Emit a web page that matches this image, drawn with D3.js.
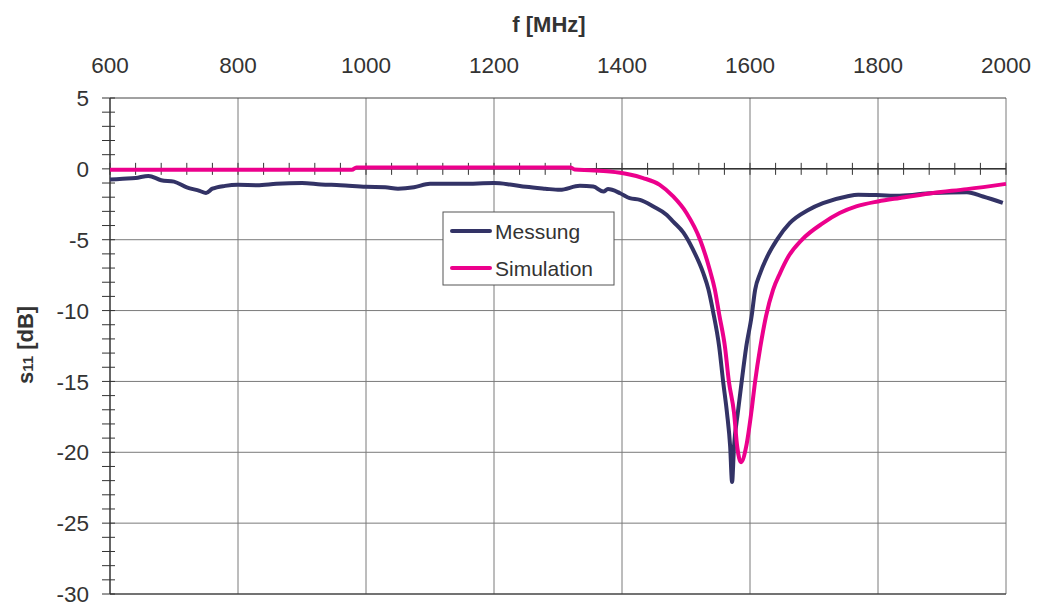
<!DOCTYPE html>
<html>
<head>
<meta charset="utf-8">
<script src="https://cdn.jsdelivr.net/npm/d3@7"></script>
<style>
  body { margin: 0; background: #fff; }
  text { font-family: "Liberation Sans", Arial, sans-serif; fill: #333; }
</style>
</head>
<body>
<div id="chart"></div>
<script>
const width = 1039;
const height = 604;
const margin = { top: 98, right: 33, bottom: 10, left: 110 };

// frequency ticks and dB ticks
const xTicks = [600, 800, 1000, 1200, 1400, 1600, 1800, 2000];
const yTicks = [5, 0, -5, -10, -15, -20, -25, -30];

// Messung (measured) [MHz, dB]
const messung = [
  [600, -0.75], [620, -0.7], [640, -0.65], [660, -0.5], [680, -0.8], [700, -0.9],
  [720, -1.3], [740, -1.55], [750, -1.7], [760, -1.4], [780, -1.2], [800, -1.13],
  [830, -1.15], [860, -1.05], [900, -1.0], [930, -1.1], [960, -1.15], [1000, -1.27],
  [1030, -1.3], [1050, -1.4], [1075, -1.3], [1100, -1.05], [1150, -1.05], [1200, -1.0],
  [1225, -1.1], [1250, -1.27], [1280, -1.4], [1303, -1.48], [1334, -1.2], [1355, -1.25],
  [1371, -1.6], [1378, -1.43], [1397, -1.72], [1412, -2.07], [1428, -2.19], [1449, -2.66],
  [1470, -3.25], [1480, -3.72], [1496, -4.5], [1511, -5.7], [1527, -7.36], [1535, -8.5],
  [1542, -10.0], [1552, -12.6], [1558, -15], [1564, -17.2], [1569, -19.6], [1572, -22.1],
  [1575, -19.6], [1581, -17.2], [1587, -15], [1594, -12.6], [1602.5, -10.4], [1608, -8.54],
  [1616, -7.36], [1627, -6.19], [1643, -4.94], [1662, -3.83], [1691, -2.9], [1714, -2.42],
  [1751, -1.95], [1769, -1.83], [1798, -1.85], [1834, -1.9], [1886, -1.7], [1939, -1.65],
  [1964, -1.95], [1995, -2.4]
];

// Simulation [MHz, dB]
const simulation = [
  [600, -0.07], [978, -0.07], [985, 0.1], [1320, 0.1], [1326, -0.05], [1350, -0.1],
  [1381, -0.19], [1410, -0.38], [1433, -0.65], [1459, -1.13], [1480, -1.95], [1501, -3.13],
  [1522, -5.0], [1537, -7.1], [1545, -8.5], [1552, -10.3], [1561, -12.6], [1567, -15],
  [1575, -17.2], [1580, -19.6], [1586, -20.7], [1594, -19.6], [1602, -17.2], [1608, -15],
  [1616, -12.6], [1625, -10.4], [1636, -8.54], [1647, -7.36], [1660, -6.19], [1681, -5.01],
  [1714, -3.83], [1740, -3.12], [1766, -2.65], [1800, -2.3], [1834, -2.05], [1886, -1.7],
  [1939, -1.43], [2000, -1.06]
];

const seriesNames = ["Messung", "Simulation"];
const seriesColors = ["#333366", "#ec008c"];

const svg = d3.select("#chart")
            .append("svg")
            .attr("width", width)
            .attr("height", height)

const x = d3.scaleLinear()
            .domain([600, 2000])
            .range([margin.left, width - margin.right]);

const y = d3.scaleLinear()
            .domain([-30, 5])
            .range([height - margin.bottom, margin.top]);

// grid
svg.append("g")
    .selectAll("line")
    .data(xTicks.slice(1))
    .join("line")
        .attr("x1", d => x(d)).attr("x2", d => x(d))
        .attr("y1", y(5)).attr("y2", y(-30))
        .style("stroke", "#7a7a7a")
        .style("stroke-width", 1)

svg.append("g")
    .selectAll("line")
    .data(yTicks)
    .join("line")
        .attr("x1", x(600)).attr("x2", x(2000))
        .attr("y1", d => y(d)).attr("y2", d => y(d))
        .style("stroke", d => d === -30 || d === 5 ? "#444" : "#7a7a7a")
        .style("stroke-width", d => d === -30 ? 1.5 : 1)

// y axis (minor ticks every 1 dB)
svg.append("line")
    .attr("x1", x(600)).attr("x2", x(600))
    .attr("y1", y(5)).attr("y2", y(-30))
    .style("stroke", "#333").style("stroke-width", 1.5)

svg.append("g")
    .selectAll("line")
    .data(d3.range(-30, 6, 1))
    .join("line")
        .attr("x1", x(600) - 8).attr("x2", x(600) + 5)
        .attr("y1", d => y(d)).attr("y2", d => y(d))
        .style("stroke", "#333").style("stroke-width", 1)

// x axis sits on 0 dB (minor ticks every 40 MHz)
svg.append("line")
    .attr("x1", x(600)).attr("x2", x(2000))
    .attr("y1", y(0)).attr("y2", y(0))
    .style("stroke", "#333").style("stroke-width", 1.5)

svg.append("g")
    .selectAll("line")
    .data(d3.range(600, 2001, 40))
    .join("line")
        .attr("x1", d => x(d)).attr("x2", d => x(d))
        .attr("y1", y(0) - 6).attr("y2", y(0) + 6)
        .style("stroke", "#333").style("stroke-width", 1)

// tick labels
svg.append("g")
    .selectAll("text")
    .data(xTicks)
    .join("text")
        .attr("x", d => x(d))
        .attr("y", 73)
        .attr("text-anchor", "middle")
        .style("font-size", "22.5px")
        .text(d => d)

svg.append("g")
    .selectAll("text")
    .data(yTicks)
    .join("text")
        .attr("x", 89)
        .attr("y", d => y(d))
        .attr("dy", "0.36em")
        .attr("text-anchor", "end")
        .style("font-size", "22.5px")
        .text(d => d)

// axis titles
svg.append("text")
    .attr("x", 549)
    .attr("y", 32)
    .attr("text-anchor", "middle")
    .style("font-size", "22px")
    .style("font-weight", "bold")
    .text("f [MHz]")

const yTitle = svg.append("text")
    .attr("transform", "translate(33, 345) rotate(-90)")
    .attr("text-anchor", "middle")
    .style("font-size", "22px")
    .style("font-weight", "bold")
yTitle.append("tspan").text("s")
yTitle.append("tspan").style("font-size", "15px").text("11")
yTitle.append("tspan").text(" [dB]")

// curves
const line = d3.line()
    .x(d => x(d[0]))
    .y(d => y(d[1]))
    .curve(d3.curveMonotoneX)

svg.append("path")
    .datum(messung)
    .attr("d", line)
    .style("fill", "none")
    .style("stroke", seriesColors[0])
    .style("stroke-width", 4)
    .style("stroke-linejoin", "round")

svg.append("path")
    .datum(simulation)
    .attr("d", line)
    .style("fill", "none")
    .style("stroke", seriesColors[1])
    .style("stroke-width", 4)
    .style("stroke-linejoin", "round")

// legend
const legend = svg.append("g")
    .attr("transform", "translate(443, 212)")

legend.append("rect")
    .attr("width", 171).attr("height", 73)
    .style("fill", "#fff")
    .style("stroke", "#555")
    .style("stroke-width", 1)

legend.selectAll("line")
    .data(seriesNames)
    .join("line")
        .attr("x1", 9).attr("x2", 47)
        .attr("y1", (d, i) => 19 + i * 37).attr("y2", (d, i) => 19 + i * 37)
        .style("stroke", (d, i) => seriesColors[i])
        .style("stroke-width", 4)
        .style("stroke-linecap", "round")

legend.selectAll("text")
    .data(seriesNames)
    .join("text")
        .attr("x", 52)
        .attr("y", (d, i) => 19 + i * 37)
        .attr("dy", "0.36em")
        .style("font-size", "21px")
        .text(d => d)
</script>
</body>
</html>
